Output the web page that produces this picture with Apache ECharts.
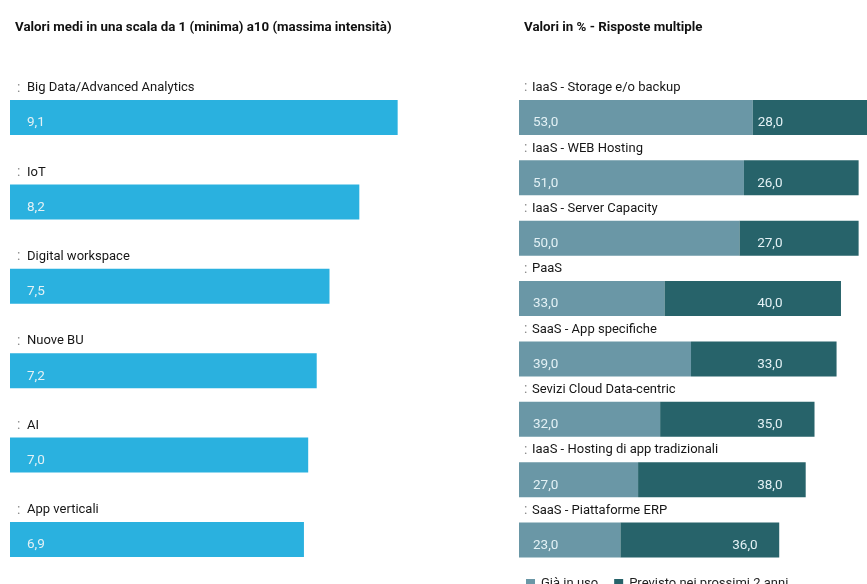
<!DOCTYPE html>
<html>
<head>
<meta charset="utf-8">
<script src="https://cdn.jsdelivr.net/npm/echarts@6/dist/echarts.min.js"></script>
<style>
html,body{margin:0;padding:0;background:#fff;}
#c{width:867px;height:584px;}
</style>
</head>
<body>
<div id="c"></div>
<script>
// ---- data ----
const leftTitle = 'Valori medi in una scala da 1 (minima) a10 (massima intensità)';
const rightTitle = 'Valori in % - Risposte multiple';
const leftCategories = ['Big Data/Advanced Analytics', 'IoT', 'Digital workspace', 'Nuove BU', 'AI', 'App verticali'];
const leftValues = [9.1, 8.2, 7.5, 7.2, 7.0, 6.9];
const rightCategories = ['IaaS - Storage e/o backup', 'IaaS - WEB Hosting', 'IaaS - Server Capacity', 'PaaS',
  'SaaS - App specifiche', 'Sevizi Cloud Data-centric', 'IaaS - Hosting di app tradizionali', 'SaaS - Piattaforme ERP'];
const inUse = [53, 51, 50, 33, 39, 32, 27, 23];
const planned = [28, 26, 27, 40, 33, 35, 38, 36];
const seriesNames = ['Già in uso', 'Previsto nei prossimi 2 anni'];

// ---- styles ----
const FONT = "'Roboto', 'Liberation Sans', sans-serif";
const BLUE = '#2ab1df';
const LIGHT = '#6a97a6';
const DARK = '#27636a';
const VAL_COLOR = '#e3f1f5';
const fmt = v => Number(v).toFixed(1).replace('.', ',');

const catLabel = (dx, w) => ({
  show: true,
  position: [dx, -12],
  align: 'left',
  verticalAlign: 'middle',
  formatter: p => '{m|:}{n|' + p.name + '}',
  rich: {
    m: { color: '#8a8a8a', fontSize: 14, fontFamily: FONT, width: w },
    n: { color: '#161616', fontSize: 13, fontFamily: FONT }
  }
});
const valLabel = (dx) => ({
  show: true,
  position: [dx, 23],
  align: 'left',
  verticalAlign: 'middle',
  color: VAL_COLOR,
  fontSize: 13.5,
  fontFamily: FONT,
  formatter: p => fmt(p.value)
});

const hiddenValueAxis = (gi, max) => ({
  type: 'value', gridIndex: gi, min: 0, max: max,
  show: false, splitLine: { show: false }
});
const hiddenCatAxis = (gi, cats) => ({
  type: 'category', gridIndex: gi, data: cats, inverse: true,
  show: false, axisTick: { show: false }, axisLine: { show: false }
});

const option = {
  backgroundColor: '#fff',
  animation: false,
  textStyle: { fontFamily: FONT },
  title: [
    { text: leftTitle, left: 10, top: 16, textStyle: { fontSize: 13.3, fontWeight: 'bold', color: '#111', fontFamily: FONT } },
    { text: rightTitle, left: 519, top: 16, textStyle: { fontSize: 13.3, fontWeight: 'bold', color: '#111', fontFamily: FONT } }
  ],
  legend: {
    data: seriesNames,
    left: 521, top: 572,
    icon: 'rect', itemWidth: 9, itemHeight: 9, itemGap: 16,
    textStyle: { fontSize: 13, color: '#1e1e1e', fontFamily: FONT, padding: [0, 0, 0, 1] },
    selectedMode: false
  },
  grid: [
    { left: 10, top: 75.3, width: 426, height: 506.4 },
    { left: 519, top: 87.3, right: 0, height: 482.9 }
  ],
  xAxis: [hiddenValueAxis(0, 10), hiddenValueAxis(1, 78.9)],
  yAxis: [hiddenCatAxis(0, leftCategories), hiddenCatAxis(1, rightCategories)],
  series: [
    {
      type: 'bar', name: 'left', xAxisIndex: 0, yAxisIndex: 0,
      data: leftValues, barWidth: 35, barGap: '-100%',
      itemStyle: { color: BLUE }, label: valLabel(17), silent: true
    },
    {
      type: 'bar', name: 'leftCat', xAxisIndex: 0, yAxisIndex: 0,
      data: leftValues, barWidth: 35, barGap: '-100%',
      itemStyle: { color: 'rgba(0,0,0,0)' }, label: catLabel(7, 10), silent: true
    },
    {
      type: 'bar', name: seriesNames[0], xAxisIndex: 1, yAxisIndex: 1, stack: 'r',
      data: inUse, barWidth: 35, barGap: '-100%',
      itemStyle: { color: LIGHT }, label: valLabel(14), silent: true
    },
    {
      type: 'bar', name: seriesNames[1], xAxisIndex: 1, yAxisIndex: 1, stack: 'r',
      data: planned, barWidth: 35, barGap: '-100%',
      itemStyle: { color: DARK }, label: valLabel(5), silent: true
    },
    {
      type: 'bar', name: 'rightCat', xAxisIndex: 1, yAxisIndex: 1,
      data: inUse, barWidth: 35, barGap: '-100%',
      itemStyle: { color: 'rgba(0,0,0,0)' }, label: catLabel(5, 8), silent: true
    }
  ]
};

const chart = echarts.init(document.getElementById('c'), null, { renderer: 'canvas' });
chart.setOption(option);

// place the "Previsto" value labels at a common column (value 54) unless the segment is too short
const colX = chart.convertToPixel({ xAxisIndex: 1 }, 54);
const plannedData = planned.map((v, i) => {
  const s = chart.convertToPixel({ xAxisIndex: 1 }, inUse[i]);
  const e = chart.convertToPixel({ xAxisIndex: 1 }, inUse[i] + v);
  const x = Math.min(colX, e - 47);
  const dx = Math.max(5, x - s);
  return { value: v, label: { position: [dx, 23] } };
});
chart.setOption({ series: [{}, {}, {}, { data: plannedData }, {}] });
</script>
</body>
</html>
